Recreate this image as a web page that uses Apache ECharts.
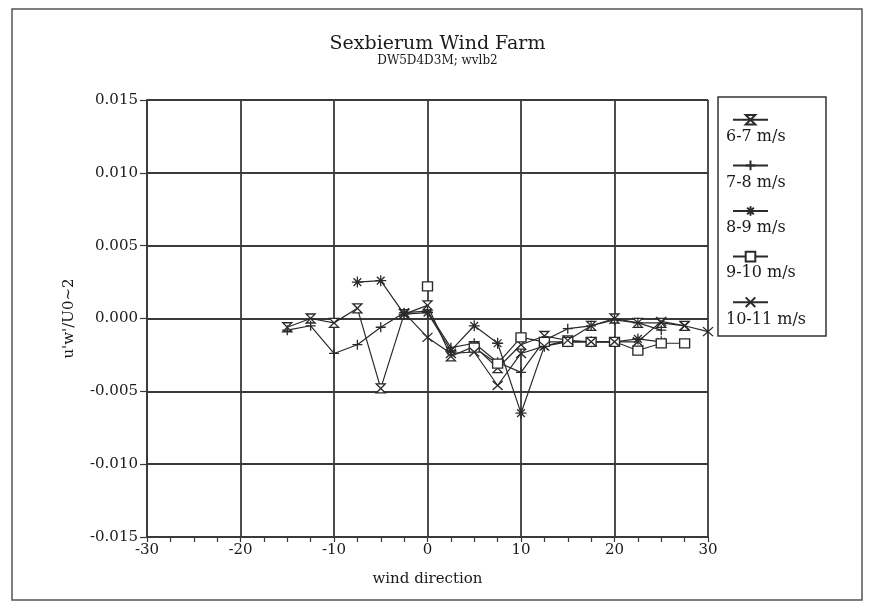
<!DOCTYPE html>
<html><head><meta charset="utf-8">
<script src="https://cdn.jsdelivr.net/npm/echarts@6/dist/echarts.min.js"></script>
<style>html,body{margin:0;padding:0;background:#fff}#c{width:875px;height:609px}</style>
</head><body><div id="c"></div>
<script>
const xs = [-15,-12.5,-10,-7.5,-5,-2.5,0,2.5,5,7.5,10,12.5,15,17.5,20,22.5,25,27.5,30];
const seriesNames = ['6-7 m/s','7-8 m/s','8-9 m/s','9-10 m/s','10-11 m/s'];
const s67  = [-0.0006,0.0000,-0.0003,0.0007,-0.0048,0.0003,0.0009,-0.0026,-0.0019,-0.0034,-0.0018,-0.0012,-0.0015,-0.0005,0.0000,-0.0003,-0.0003,-0.0005,null];
const s78  = [-0.0008,-0.0005,-0.0024,-0.0018,-0.0006,0.0004,0.0005,-0.0020,-0.0017,-0.0030,-0.0037,-0.0015,-0.0007,-0.0005,-0.0001,-0.0003,-0.0008,null,null];
const s89  = [null,null,null,0.0025,0.0026,0.0003,0.0004,-0.0022,-0.0005,-0.0017,-0.0065,-0.0019,-0.0016,-0.0016,-0.0016,-0.0014,-0.0016,null,null];
const s910 = [null,null,null,null,null,null,0.0022,null,-0.0020,-0.0031,-0.0013,-0.0016,-0.0016,-0.0016,-0.0016,-0.0022,-0.0017,-0.0017,null];
const s1011= [null,null,null,null,null,0.0004,-0.0013,-0.0024,-0.0023,-0.0046,-0.0024,-0.0019,-0.0015,-0.0016,-0.0016,-0.0016,-0.0002,-0.0005,-0.0009];
const xTicks = {min:-30, max:30, interval:10};
const yTicks = {min:-0.015, max:0.015, interval:0.005};
const titleText = 'Sexbierum Wind Farm';
const subText = 'DW5D4D3M; wvlb2';
const xName = 'wind direction';
const yName = "u'w'/U0~2";

const allValues = [s67, s78, s89, s910, s1011];
const symbols = [
  'path://M0,0L10,0L0,10L10,10Z',
  'path://M5,0L5,10M0,5L10,5',
  'path://M5,0L5,10M0,5L10,5M1.5,1.5L8.5,8.5M8.5,1.5L1.5,8.5',
  'path://M0,0L10,0L10,10L0,10Z',
  'path://M0,0L10,10M10,0L0,10'
];
const symSizes = [[9,9],[10,10],[11,11],[10,9],[10,9]];
const FONT = 'DejaVu Serif';
const ink = '#1a1a1a';
const gridInk = '#3a3a3a';

const chart = echarts.init(document.getElementById('c'), null, {renderer:'canvas'});
const series = seriesNames.map((n, i) => ({
  name: n, type: 'line',
  data: xs.map((x, j) => [x, allValues[i][j]]),
  connectNulls: false,
  symbol: symbols[i], symbolSize: symSizes[i], showAllSymbol: true,
  lineStyle: {color: '#2a2a2a', width: 1.2},
  itemStyle: {color: '#fff', borderColor: '#2a2a2a', borderWidth: 1.3},
  emphasis: {disabled: true},
  animation: false
}));

const legendTextY = [137,183,228,273,320];
const graphics = [
  {type:'rect', shape:{x:12, y:9, width:850, height:591}, style:{fill:'none', stroke:'#555', lineWidth:1.5}, silent:true},
  {type:'rect', shape:{x:718, y:97, width:108, height:239}, style:{fill:'none', stroke:'#333', lineWidth:1.5}, silent:true}
];
seriesNames.forEach((n, i) => {
  graphics.push({type:'text', x:726, y:legendTextY[i], style:{text:n, font:'16px "' + FONT + '"', fill:ink, verticalAlign:'middle', textAlign:'left'}, silent:true});
});

chart.setOption({
  backgroundColor: '#fff',
  animation: false,
  title: {
    text: titleText, subtext: subText, left: 'center', top: 30, itemGap: 1,
    textStyle: {fontFamily: FONT, fontSize: 19, fontWeight: 'normal', color: ink},
    subtextStyle: {fontFamily: FONT, fontSize: 12, color: ink}
  },
  legend: {
    data: seriesNames, orient: 'vertical', left: 727, top: 109,
    itemWidth: 35, itemHeight: 12, itemGap: 34,
    formatter: () => '', selectedMode: false,
    textStyle: {fontSize: 1, lineHeight: 1}
  },
  grid: {left: 147, right: 167, top: 100, bottom: 72, containLabel: false},
  xAxis: {
    type: 'value', min: xTicks.min, max: xTicks.max, interval: xTicks.interval,
    name: xName, nameLocation: 'middle', nameGap: 35,
    nameTextStyle: {fontFamily: FONT, fontSize: 15, color: ink},
    axisLine: {onZero: false, lineStyle: {color: gridInk, width: 1.8}},
    axisTick: {show: true, length: 5, lineStyle: {color: gridInk, width: 1.2}},
    minorTick: {show: true, splitNumber: 4, length: 5, lineStyle: {color: gridInk, width: 1.2}},
    axisLabel: {fontFamily: FONT, fontSize: 15, color: ink, margin: 6},
    splitLine: {show: true, lineStyle: {color: gridInk, width: 1.8}}
  },
  yAxis: {
    type: 'value', min: yTicks.min, max: yTicks.max, interval: yTicks.interval,
    name: yName, nameLocation: 'middle', nameGap: 70,
    nameTextStyle: {fontFamily: FONT, fontSize: 15, color: ink},
    axisLine: {onZero: false, lineStyle: {color: gridInk, width: 1.8}},
    axisTick: {show: true, length: 7, lineStyle: {color: gridInk, width: 1.2}},
    axisLabel: {fontFamily: FONT, fontSize: 15, color: ink, margin: 9, formatter: v => v.toFixed(3)},
    splitLine: {show: true, lineStyle: {color: gridInk, width: 1.8}}
  },
  graphic: graphics,
  series: series
});
</script>
</body></html>
